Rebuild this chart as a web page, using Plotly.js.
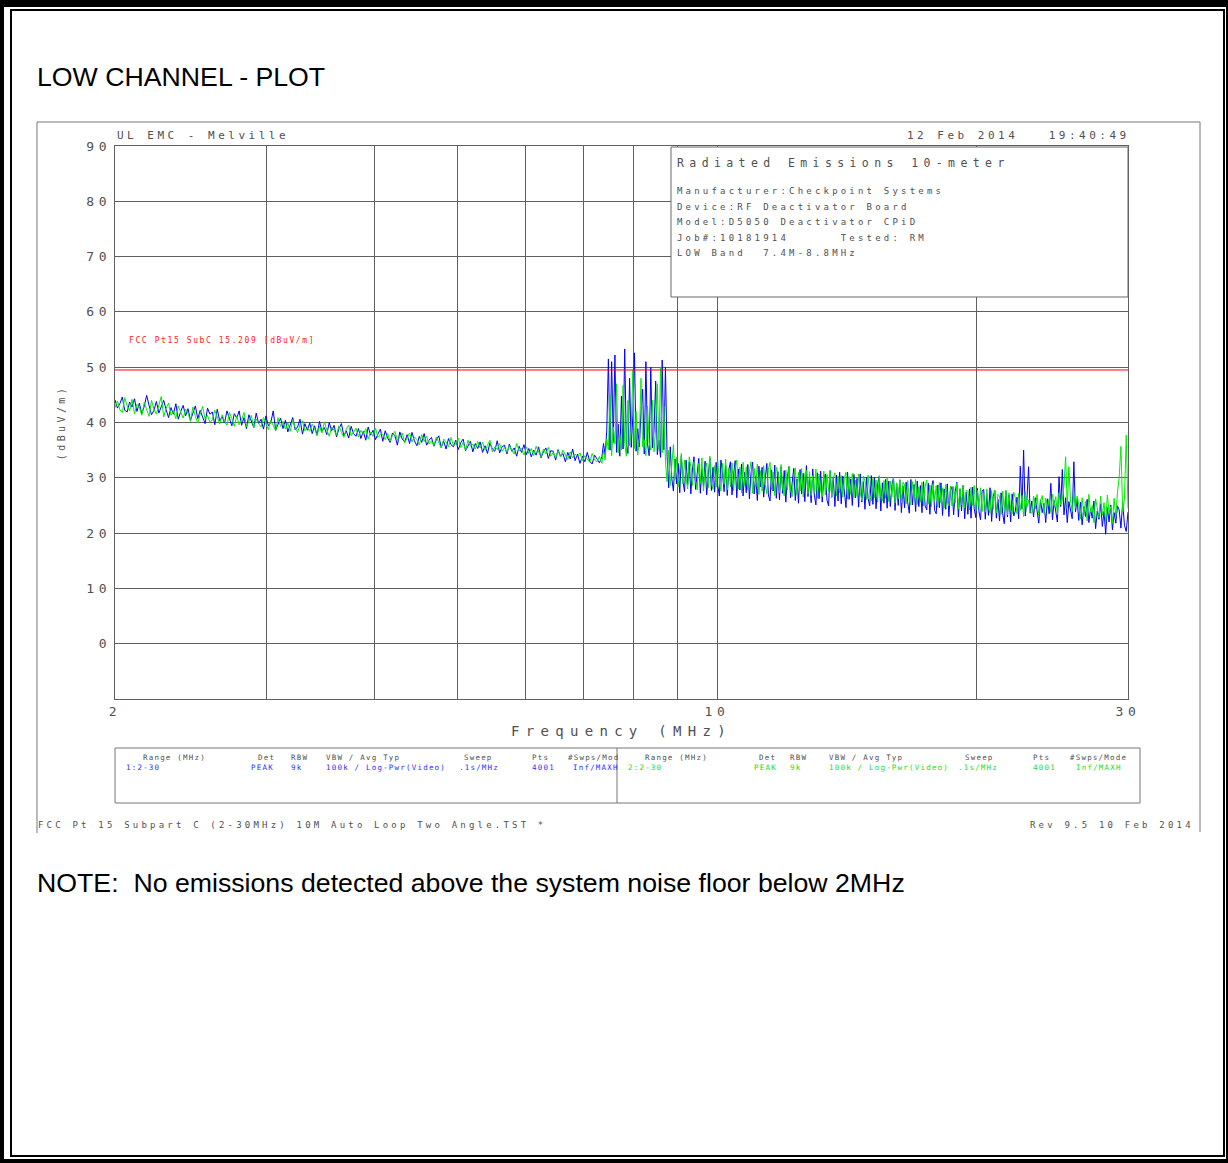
<!DOCTYPE html>
<html>
<head>
<meta charset="utf-8">
<script src="https://cdn.plot.ly/plotly-3.0.1.min.js"></script>
<style>
  html, body { margin: 0; padding: 0; background: #fff; }
  #sheet {
    position: absolute; left: 0; top: 0; width: 1228px; height: 1163px;
    box-sizing: border-box; background: #fff;
    border-left: 4px solid #000; border-top: 7px solid #000;
    border-right: 2px solid #000; border-bottom: 4px solid #000;
  }
  #sheet-inner {
    position: absolute; left: 10px; top: 9px; width: 1215px; height: 1148px;
    box-sizing: border-box; border: 2px solid #000;
  }
  #chart { position: absolute; left: 0; top: 0; width: 1228px; height: 1163px; }
  /* plotter stroke lettering is widely spaced (also applies while text is measured) */
  text[style*="Mono"][style*="font-size: 13px"] { letter-spacing: 4.7px; }
  text[style*="Mono"][style*="font-size: 11px"] { letter-spacing: 3.5px; }
  text[style*="Mono"][style*="font-size: 11.5px"] { letter-spacing: 5.4px; }
  text[style*="Mono"][style*="font-size: 9px"] { letter-spacing: 3.2px; }
  text[style*="Mono"][style*="font-size: 14px"] { letter-spacing: 6.3px; }
  text[style*="Mono"][style*="font-size: 10px"] { letter-spacing: 3.4px; }
  text[style*="Mono"][style*="font-size: 8px"] { letter-spacing: 1.6px; }
  text[style*="Mono"][style*="font-size: 7.5px"] { letter-spacing: 1.2px; }
</style>
</head>
<body>
<div id="sheet"></div>
<div id="sheet-inner"></div>
<div id="chart"></div>
<script>
// Sweep sub-bands (MHz); readings of each trace are listed band by band.
const bandEdgesMHz = [2.0, 7.35, 8.75, 22.2, 23.2, 24.3, 26.3, 29.3, 30.0];

// ---- Trace 1 (blue), dBuV/m ----
const t1Low = [
  44.1, 42.6, 43.4, 44.6, 42.2, 41.9, 43.7, 42.8, 44.3, 42.0,
  43.5, 41.6, 42.9, 44.9, 43.1, 41.4, 42.2, 43.8, 41.7, 42.9,
  44.0, 42.3, 40.9, 42.7, 41.5, 43.4, 40.6, 42.0, 43.1, 41.2,
  42.5, 40.4, 41.8, 43.0, 40.7, 42.2, 41.0, 39.8, 42.6, 41.5,
  41.9, 39.6, 42.4, 40.3, 41.1, 39.9, 42.1, 40.5, 39.4, 41.6,
  40.8, 42.1, 39.5, 40.9, 38.9, 41.4, 40.2, 39.1, 41.7, 39.8,
  40.6, 38.8, 41.2, 39.4, 40.0, 42.1, 38.6, 39.9, 40.8, 38.9,
  40.4, 38.3, 39.7, 40.9, 38.7, 39.2, 40.6, 37.9, 39.8, 38.6,
  39.9, 38.0, 39.4, 37.7, 40.2, 38.4, 39.1, 37.8, 40.0, 38.5,
  39.5, 37.4, 38.9, 39.8, 37.6, 38.5, 37.2, 39.3, 38.0, 37.5,
  38.9, 37.1, 38.4, 36.8, 39.2, 37.7, 38.6, 36.9, 37.9, 38.8,
  36.6, 38.5, 37.2, 36.4, 38.1, 37.6, 35.9, 38.3, 37.0, 36.5,
  37.8, 36.2, 38.2, 36.7, 35.8, 37.5, 36.4, 38.0, 35.9, 36.8,
  37.3, 35.7, 36.9, 37.6, 35.5, 36.6, 35.2, 37.1, 36.0, 35.6,
  36.8, 35.1, 36.3, 37.0, 34.9, 35.9, 36.6, 34.7, 36.2, 35.3,
  36.5, 34.6, 35.8, 34.4, 36.3, 35.2, 34.8, 36.7, 34.5, 35.6,
  35.9, 34.3, 36.1, 34.8, 35.4, 33.9, 35.7, 34.6, 36.0, 34.2,
  35.3, 33.8, 35.0, 34.1, 35.6, 33.6, 34.7, 35.4, 33.5, 34.9,
  34.8, 33.2, 35.1, 33.9, 34.4, 32.9, 34.6, 33.4, 35.2, 33.1,
  34.3, 32.6, 33.9, 32.9, 34.6, 33.0, 32.5, 34.1, 33.3, 32.7
];
const t1Burst = [
  33.8, 36.2, 34.1, 38.5, 51.5, 35.0, 51.0, 36.4, 52.2, 34.6,
  39.7, 33.9, 44.8, 35.2, 53.3, 36.0, 34.4, 48.0, 35.5, 41.2,
  52.6, 34.8, 38.9, 35.6, 42.0, 46.0, 34.3, 51.0, 36.1, 34.0,
  50.0, 35.4, 38.7, 47.5, 34.2, 36.8, 33.7, 51.3, 35.1, 50.0
];
const t1Mid = [
  33.9, 28.2, 35.6, 29.8, 27.6, 33.4, 28.9, 32.6, 27.3, 34.0,
  29.4, 27.5, 33.2, 28.8, 32.9, 27.1, 31.4, 33.8, 27.9, 30.2,
  33.5, 27.2, 31.6, 28.4, 33.0, 26.9, 30.8, 33.6, 27.7, 31.9,
  27.4, 32.8, 28.6, 26.7, 33.2, 30.9, 27.5, 32.3, 26.8, 31.4,
  32.9, 26.9, 30.5, 33.1, 26.4, 31.6, 27.8, 32.5, 26.7, 31.0,
  27.3, 32.4, 26.2, 30.8, 32.8, 27.1, 30.3, 25.9, 32.1, 28.4,
  31.9, 26.5, 29.9, 32.6, 26.9, 25.8, 31.4, 27.6, 32.3, 26.3,
  31.1, 26.0, 32.0, 27.2, 31.3, 25.6, 30.2, 32.0, 26.4, 29.6,
  31.7, 25.9, 29.8, 25.4, 31.5, 27.1, 30.8, 25.7, 32.2, 26.6,
  30.1, 25.5, 31.6, 26.9, 25.1, 30.9, 26.2, 31.2, 25.6, 29.8,
  30.7, 26.0, 24.9, 31.3, 26.5, 30.0, 24.8, 30.5, 25.8, 31.0,
  25.3, 30.3, 26.7, 24.6, 31.0, 26.1, 29.8, 25.0, 30.6, 26.4,
  29.9, 24.7, 30.7, 25.6, 29.3, 24.3, 30.1, 26.2, 24.9, 30.4,
  25.2, 30.0, 24.4, 28.9, 30.2, 24.0, 29.1, 25.4, 29.7, 24.5,
  29.4, 24.8, 28.6, 30.1, 24.1, 29.0, 25.0, 29.6, 23.7, 28.5,
  24.6, 29.2, 25.5, 23.6, 29.7, 25.1, 28.8, 23.9, 29.4, 24.8,
  28.6, 23.7, 29.3, 24.9, 24.2, 29.0, 23.4, 28.2, 29.5, 24.1,
  23.5, 28.7, 24.6, 29.1, 23.2, 28.0, 24.3, 28.9, 23.0, 27.7,
  28.4, 23.3, 27.5, 29.2, 22.9, 27.9, 24.0, 28.6, 22.6, 27.4,
  23.4, 28.0, 22.7, 28.3, 24.4, 22.8, 28.1, 23.9, 22.4, 27.6,
  27.9, 22.5, 27.0, 23.2, 28.2, 22.1, 26.6, 27.7, 22.7, 26.1,
  22.2, 27.3, 23.5, 21.7, 27.6, 22.9, 26.9, 22.0, 27.1, 23.1
];
const t1Spur1 = [24.0, 26.5, 22.6, 32.1, 24.4, 35.0, 23.1, 25.9, 32.0, 23.6];
const t1Gap1 = [25.8, 22.9, 26.4, 24.2, 21.8, 26.0, 23.7, 25.4, 21.9, 26.2];
const t1Spur2 = [23.5, 29.0, 22.4, 25.9, 24.1, 22.0, 30.2, 24.8, 31.5, 23.3, 26.4, 21.9, 25.7, 24.0, 22.6, 32.9, 23.8, 26.1];
const t1Gap2 = [
  22.3, 25.6, 21.5, 24.8, 23.0, 26.1, 21.9, 24.4, 22.7, 25.8, 20.8, 24.0,
  22.5, 25.3, 21.2, 23.9, 19.8, 24.6, 22.0, 25.1, 20.6, 23.7, 21.8, 24.9
];
const t1Edge = [24.2, 20.9, 25.6, 21.4, 20.3, 23.8];

// ---- Trace 2 (green), dBuV/m ----
const t2Low = [
  42.7, 43.9, 42.3, 41.8, 44.5, 43.0, 42.1, 44.2, 41.6, 43.3,
  42.8, 41.3, 43.6, 42.5, 41.1, 44.0, 42.4, 41.5, 43.2, 44.7,
  41.0, 42.6, 43.5, 41.3, 42.1, 40.7, 43.0, 41.9, 40.8, 42.4,
  41.7, 40.2, 42.8, 41.1, 39.9, 41.5, 42.9, 40.6, 41.3, 40.0,
  40.5, 42.2, 40.9, 39.7, 41.4, 40.2, 39.5, 41.8, 40.7, 39.3,
  41.2, 39.6, 40.5, 41.8, 39.2, 40.1, 41.3, 39.0, 40.6, 39.8,
  39.2, 40.9, 39.7, 38.7, 40.4, 39.5, 38.5, 40.9, 39.3, 40.2,
  38.8, 39.9, 38.4, 40.5, 39.1, 38.2, 39.6, 40.3, 38.5, 39.0,
  38.4, 39.7, 38.9, 37.6, 39.3, 38.1, 40.1, 38.7, 37.5, 39.2,
  38.6, 37.7, 39.4, 38.2, 37.3, 38.8, 39.5, 37.6, 38.3, 39.0,
  37.4, 38.6, 37.9, 38.9, 37.0, 38.3, 37.5, 39.0, 37.3, 37.9,
  37.9, 36.9, 38.0, 36.6, 37.7, 38.4, 36.8, 37.3, 38.1, 36.3,
  37.2, 38.1, 36.5, 37.4, 36.9, 35.9, 37.8, 36.6, 37.5, 36.1,
  36.7, 35.8, 37.4, 36.3, 35.4, 37.0, 36.5, 35.6, 37.3, 35.9,
  36.1, 37.2, 35.5, 36.4, 35.0, 36.8, 35.7, 36.1, 35.2, 36.6,
  35.4, 36.4, 35.0, 35.9, 36.8, 34.7, 35.6, 35.1, 36.2, 34.8,
  35.5, 34.6, 35.8, 35.0, 34.3, 36.2, 34.9, 35.3, 34.1, 35.6,
  34.4, 35.3, 34.0, 35.7, 34.6, 33.7, 35.2, 34.3, 35.5, 33.9,
  34.6, 33.6, 34.9, 33.8, 35.0, 34.2, 33.3, 34.7, 33.6, 34.3,
  33.8, 34.5, 33.1, 34.0, 33.5, 32.8, 34.4, 33.2, 32.9, 33.9
];
const t2Burst = [
  32.6, 34.9, 33.2, 37.0, 35.1, 45.0, 34.0, 39.2, 36.1, 47.0,
  34.5, 37.8, 35.0, 46.7, 36.2, 33.9, 44.0, 35.8, 38.5, 49.5,
  35.3, 42.0, 34.1, 37.2, 48.0, 35.6, 36.9, 34.0, 43.0, 36.4,
  35.0, 44.0, 34.7, 39.0, 47.0, 35.2, 50.0, 34.5, 43.0, 32.9
];
const t2Mid = [
  29.3, 35.0, 28.6, 32.4, 36.0, 29.7, 33.7, 28.4, 32.1, 34.4,
  28.9, 33.2, 29.9, 28.0, 33.8, 32.0, 28.6, 32.9, 29.5, 27.8,
  32.6, 29.0, 33.6, 27.6, 31.4, 32.7, 28.2, 33.9, 29.1, 27.9,
  32.2, 28.3, 33.1, 29.5, 27.6, 32.6, 28.8, 33.4, 27.8, 31.7,
  28.4, 32.7, 27.7, 31.6, 33.2, 28.0, 31.9, 27.3, 32.8, 28.6,
  32.0, 27.8, 31.1, 32.9, 27.2, 31.7, 28.4, 32.5, 27.0, 31.3,
  27.6, 32.2, 28.8, 27.1, 31.5, 32.8, 27.9, 31.0, 26.8, 31.9,
  30.9, 27.3, 32.4, 28.2, 26.7, 31.4, 27.8, 32.1, 28.0, 26.6,
  30.3, 31.8, 26.9, 31.0, 27.6, 31.7, 26.5, 30.6, 31.4, 27.1,
  31.1, 26.8, 30.4, 27.4, 31.6, 26.3, 30.7, 27.7, 26.6, 31.2,
  26.9, 30.6, 27.5, 31.3, 26.4, 30.0, 30.9, 26.7, 30.3, 27.3,
  30.4, 26.5, 29.9, 31.0, 26.2, 30.2, 27.0, 30.8, 26.4, 29.6,
  26.6, 30.7, 27.3, 25.9, 30.3, 29.4, 26.1, 30.5, 27.0, 25.8,
  29.9, 26.4, 29.6, 25.6, 30.4, 26.9, 25.8, 29.5, 26.3, 30.0,
  25.7, 29.4, 26.5, 30.1, 25.4, 29.1, 26.2, 29.7, 25.5, 29.2,
  28.7, 25.3, 29.5, 26.0, 25.1, 29.3, 26.3, 29.7, 25.2, 28.4,
  25.6, 29.2, 24.9, 28.5, 29.6, 25.3, 28.7, 24.8, 28.9, 25.9,
  28.6, 24.7, 29.1, 25.5, 28.2, 24.5, 28.8, 25.8, 24.9, 28.5,
  24.9, 28.4, 25.4, 29.0, 24.4, 28.1, 25.1, 28.7, 24.6, 27.8,
  27.5, 24.2, 28.3, 25.0, 28.6, 24.0, 27.7, 24.7, 28.2, 23.9,
  27.2, 23.8, 28.0, 24.6, 23.6, 27.7, 24.3, 27.8, 23.7, 27.0,
  26.7, 23.4, 27.6, 24.1, 27.8, 23.3, 27.3, 24.4, 23.5, 27.4
];
const t2Spur1 = [26.3, 23.5, 27.2, 24.1, 26.8, 23.0, 27.5, 24.6, 26.0, 23.8];
const t2Gap1 = [23.6, 26.7, 24.4, 27.0, 23.2, 25.9, 26.8, 23.5, 26.3, 24.7];
const t2Spur2 = [26.2, 23.7, 27.0, 24.9, 26.6, 23.4, 27.3, 25.1, 26.0, 28.5, 33.8, 24.6, 32.0, 25.8, 23.9, 27.1, 24.5, 26.7];
const t2Gap2 = [
  25.2, 22.6, 26.4, 23.4, 25.7, 22.2, 27.0, 23.8, 25.0, 21.9, 26.2, 24.1,
  22.8, 26.7, 23.2, 25.5, 22.0, 26.9, 23.6, 24.8, 21.7, 26.3, 23.0, 27.4
];
const t2Edge = [30.0, 35.7, 23.8, 26.2, 37.7, 24.5];

// FCC Pt15 SubC 15.209 limit, dBuV/m
const limitFreqMHz = [2, 30];
const limitLevel = [49.5, 49.5];

// Axis ticks
const xTickVals = [2, 3, 4, 5, 6, 7, 8, 9, 10, 20, 30];
const xTickText = ['2', '', '', '', '', '', '', '', '10', '', '30'];
const yTickVals = [0, 10, 20, 30, 40, 50, 60, 70, 80, 90];

// Instrument settings table
const tableHeaders = ['Range (MHz)', 'Det', 'RBW', 'VBW / Avg Typ', 'Sweep', 'Pts', '#Swps/Mode'];
const trace1Settings = ['1:2-30', 'PEAK', '9k', '100k / Log-Pwr(Video)', '.1s/MHz', '4001', 'Inf/MAXH'];
const trace2Settings = ['2:2-30', 'PEAK', '9k', '100k / Log-Pwr(Video)', '.1s/MHz', '4001', 'Inf/MAXH'];

const infoLines = [
  'Manufacturer:Checkpoint Systems',
  'Device:RF Deactivator Board',
  'Model:D5050 Deactivator CPiD',
  'Job#:10181914\u00a0\u00a0\u00a0\u00a0\u00a0\u00a0Tested: RM',
  'LOW Band\u00a0\u00a07.4M-8.8MHz'
];

// Spread each band's readings evenly (in log frequency) across that band.
function sweepFreqs(bands) {
  const f = [], y = [];
  bands.forEach((vals, b) => {
    const lo = bandEdgesMHz[b], hi = bandEdgesMHz[b + 1];
    const last = b === bands.length - 1;
    const n = vals.length;
    vals.forEach((v, i) => {
      const t = last ? i / (n - 1) : i / n;
      f.push(lo * Math.pow(hi / lo, t));
      y.push(v);
    });
  });
  return { f, y };
}

const tr1 = sweepFreqs([t1Low, t1Burst, t1Mid, t1Spur1, t1Gap1, t1Spur2, t1Gap2, t1Edge]);
const tr2 = sweepFreqs([t2Low, t2Burst, t2Mid, t2Spur1, t2Gap1, t2Spur2, t2Gap2, t2Edge]);

// Page geometry (px) of the plotting area
const L = 115, R = 1128, T = 146, B = 699;
const W = R - L, H = B - T;
const px = x => (x - L) / W;
const py = y => (B - y) / H;

const MONO = 'DejaVu Sans Mono';
const GRAY = '#505050';
const BLUE = '#0000ff';
const GREEN = '#00ee00';
const SANS = 'Liberation Sans, Arial, sans-serif';

function label(text, x, y, size, color, anchor, family) {
  const a = anchor || 'left';
  return {
    text: text, xref: 'paper', yref: 'paper', x: px(x), y: py(y),
    xanchor: a, yanchor: 'middle', align: a, showarrow: false,
    borderpad: 0, font: { family: family || MONO, size: size, color: color }
  };
}

const annotations = [
  label('LOW CHANNEL - PLOT', 36, 77, 26.7, '#000', 'left', SANS),
  label('NOTE:\u00a0\u00a0No emissions detected above the system noise floor below 2MHz', 36, 883, 26.7, '#000', 'left', SANS),
  label('UL EMC - Melville', 116, 135, 11, GRAY),
  label('12 Feb 2014\u00a0\u00a0\u00a019:40:49', 1131, 135, 11, GRAY, 'right'),
  label('Radiated Emissions 10-meter', 676, 163, 11.5, GRAY),
  label('FCC Pt15 SubC 15.209 [dBuV/m]', 128, 340, 8, '#ff2020'),
  label('FCC Pt 15 Subpart C (2-30MHz) 10M Auto Loop Two Angle.TST *', 37, 825, 9, GRAY),
  label('Rev 9.5 10 Feb 2014', 1195, 825, 9, GRAY, 'right')
];
infoLines.forEach((s, i) => annotations.push(label(s, 676, 191 + i * 15.6, 9, GRAY)));

// settings table: two halves, one per trace
const headX1 = [142, 257, 290, 325, 463, 531, 567];
const valX1 = [125, 250, 290, 325, 458, 531, 572];
const headX2 = [644, 758, 789, 828, 964, 1032, 1069];
const valX2 = [627, 753, 789, 828, 957, 1032, 1075];
tableHeaders.forEach((h, i) => {
  annotations.push(label(i === 6 ? '#Swps/Mod' : h, headX1[i], 757, 7.5, GRAY));
  annotations.push(label(h, headX2[i], 757, 7.5, GRAY));
});
trace1Settings.forEach((s, i) => annotations.push(label(s, valX1[i], 767, 7.5, '#3030ff')));
trace2Settings.forEach((s, i) => annotations.push(label(s, valX2[i], 767, 7.5, '#20dd20')));

function pline(x0, y0, x1, y1, color) {
  return { type: 'line', xref: 'paper', yref: 'paper', x0: px(x0), y0: py(y0), x1: px(x1), y1: py(y1),
           line: { color: color || '#777', width: 1 }, layer: 'above' };
}

const shapes = [
  // plotter page frame
  pline(37, 122, 1200, 122),
  pline(37, 122, 37, 833),
  pline(1200, 122, 1200, 832),
  // title block
  { type: 'rect', xref: 'paper', yref: 'paper', x0: px(671), y0: py(147), x1: px(1128), y1: py(297),
    fillcolor: '#fff', line: { color: '#666', width: 1 }, layer: 'above' },
  // settings table
  { type: 'rect', xref: 'paper', yref: 'paper', x0: px(115), y0: py(748), x1: px(1140), y1: py(803),
    fillcolor: 'rgba(0,0,0,0)', line: { color: '#777', width: 1 }, layer: 'above' },
  pline(617, 748, 617, 803)
];

const data = [
  { x: tr1.f, y: tr1.y, type: 'scatter', mode: 'lines', line: { color: BLUE, width: 1 }, name: '1:2-30' },
  { x: tr2.f, y: tr2.y, type: 'scatter', mode: 'lines', line: { color: GREEN, width: 1 }, name: '2:2-30' },
  { x: limitFreqMHz, y: limitLevel, type: 'scatter', mode: 'lines', line: { color: '#ff0000', width: 1 }, name: 'FCC Pt15 SubC 15.209' }
];

const layout = {
  width: 1228, height: 1163,
  margin: { l: L, r: 1228 - R, t: T, b: 1163 - B, pad: 0 },
  paper_bgcolor: 'rgba(0,0,0,0)',
  plot_bgcolor: '#fff',
  showlegend: false,
  xaxis: {
    type: 'log', range: [Math.log10(2), Math.log10(30)],
    tickmode: 'array', tickvals: xTickVals, ticktext: xTickText,
    showgrid: true, gridcolor: '#606060', gridwidth: 1,
    showline: true, mirror: true, linecolor: '#606060', linewidth: 1,
    ticks: '', zeroline: false,
    tickfont: { family: MONO, size: 13, color: GRAY },
    title: { text: 'Frequency (MHz)', font: { family: MONO, size: 14, color: GRAY }, standoff: 8 }
  },
  yaxis: {
    range: [-10, 90],
    tickmode: 'array', tickvals: yTickVals,
    showgrid: true, gridcolor: '#606060', gridwidth: 1,
    showline: true, mirror: true, linecolor: '#606060', linewidth: 1,
    ticks: '', zeroline: false,
    tickfont: { family: MONO, size: 13, color: GRAY },
    title: { text: '(dBuV/m)', font: { family: MONO, size: 10, color: GRAY }, standoff: 18 }
  },
  annotations: annotations,
  shapes: shapes
};

Plotly.newPlot('chart', data, layout, { staticPlot: true, displayModeBar: false });
</script>
</body>
</html>
